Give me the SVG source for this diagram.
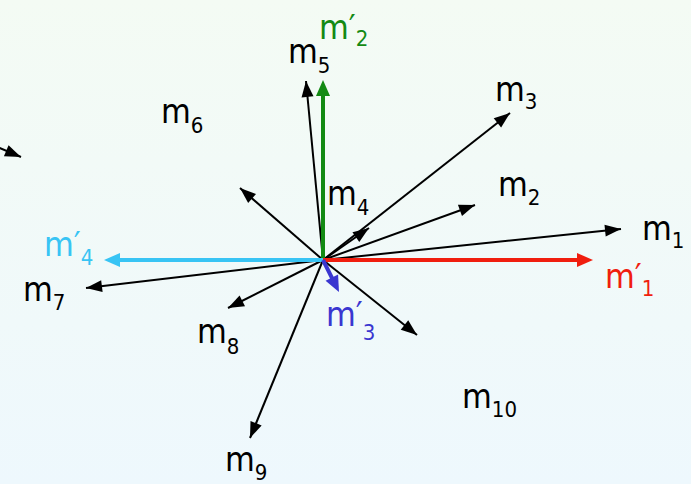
<svg xmlns="http://www.w3.org/2000/svg" width="691" height="484" viewBox="0 0 691 484">
<defs>
<linearGradient id="bg" x1="0" y1="0" x2="0" y2="1">
<stop offset="0" stop-color="#f4fbf4"/>
<stop offset="1" stop-color="#eef8fd"/>
</linearGradient>
<marker id="ah" markerUnits="userSpaceOnUse" markerWidth="16" markerHeight="12" refX="16" refY="6" orient="auto" overflow="visible">
<path d="M0,0 L16,6 L0,12 z" fill="#000"/>
</marker>
<marker id="ahG" markerUnits="userSpaceOnUse" markerWidth="16" markerHeight="14" refX="10" refY="7" orient="auto" overflow="visible">
<path d="M0,0 L16,7 L0,14 z" fill="#138a13"/>
</marker>
<marker id="ahR" markerUnits="userSpaceOnUse" markerWidth="16" markerHeight="14" refX="10" refY="7" orient="auto" overflow="visible">
<path d="M0,0 L16,7 L0,14 z" fill="#f01e0e"/>
</marker>
<marker id="ahC" markerUnits="userSpaceOnUse" markerWidth="16" markerHeight="14" refX="10" refY="7" orient="auto" overflow="visible">
<path d="M0,0 L16,7 L0,14 z" fill="#38c4f4"/>
</marker>
<marker id="ahB" markerUnits="userSpaceOnUse" markerWidth="16" markerHeight="14" refX="10" refY="7" orient="auto" overflow="visible">
<path d="M0,0 L16,7 L0,14 z" fill="#3a36d0"/>
</marker>
</defs>
<style>
.t{font-family:"DejaVu Sans Condensed","DejaVu Sans",sans-serif;font-size:34px;fill:#000}
.s{font-size:22px}
.k{stroke:#000;stroke-width:2;fill:none;marker-end:url(#ah)}
.w{stroke-width:4;fill:none}
</style>
<rect x="0" y="0" width="691" height="484" fill="url(#bg)"/>
<g id="connectors">
<line class="k" x1="323" y1="260" x2="621" y2="229"/>
<line class="k" x1="323" y1="260" x2="475" y2="205"/>
<line class="k" x1="323" y1="260" x2="510" y2="113"/>
<line class="k" x1="323" y1="260" x2="369" y2="228"/>
<line class="k" x1="323" y1="260" x2="306" y2="81"/>
<line class="k" x1="323" y1="260" x2="240" y2="188"/>
<line class="k" x1="-10" y1="144" x2="21" y2="157"/>
<line class="k" x1="323" y1="260" x2="86" y2="288"/>
<line class="k" x1="323" y1="260" x2="228" y2="308"/>
<line class="k" x1="323" y1="260" x2="250" y2="438"/>
<line class="k" x1="323" y1="260" x2="417" y2="335"/>
<line class="w" stroke="#138a13" x1="323" y1="262" x2="323" y2="86" marker-end="url(#ahG)"/>
<line class="w" stroke="#f01e0e" x1="321" y1="260" x2="587" y2="260" marker-end="url(#ahR)"/>
<line class="w" stroke="#38c4f4" x1="323" y1="260" x2="110" y2="260" marker-end="url(#ahC)"/>
<line class="w" stroke="#3a36d0" x1="323" y1="260" x2="336.3" y2="286.6" marker-end="url(#ahB)"/>
</g>
<g id="m1"><text class="t" x="642" y="240">m<tspan class="s" dy="8">1</tspan></text></g>
<g id="m2"><text class="t" x="498" y="196">m<tspan class="s" dy="9">2</tspan></text></g>
<g id="m3"><text class="t" x="495" y="101">m<tspan class="s" dy="8">3</tspan></text></g>
<g id="m4"><text class="t" x="327" y="205">m<tspan class="s" dy="10">4</tspan></text></g>
<g id="m5"><text class="t" x="288" y="63">m<tspan class="s" dy="10">5</tspan></text></g>
<g id="m6"><text class="t" x="161" y="123">m<tspan class="s" dy="10">6</tspan></text></g>
<g id="m7"><text class="t" x="23" y="301">m<tspan class="s" dy="9">7</tspan></text></g>
<g id="m8"><text class="t" x="197" y="343">m<tspan class="s" dy="11">8</tspan></text></g>
<g id="m9"><text class="t" x="225" y="471">m<tspan class="s" dy="9">9</tspan></text></g>
<g id="m10"><text class="t" x="462" y="408">m<tspan class="s" dy="9">10</tspan></text></g>
<g id="mp1"><text class="t" x="605" y="288" style="fill:#f01e0e">m′<tspan class="s" dy="8">1</tspan></text></g>
<g id="mp2"><text class="t" x="319" y="39" style="fill:#138a13">m′<tspan class="s" dy="7">2</tspan></text></g>
<g id="mp3"><text class="t" x="326" y="326" style="fill:#3a36d0">m′<tspan class="s" dy="14">3</tspan></text></g>
<g id="mp4"><text class="t" x="44" y="256" style="fill:#38c4f4">m′<tspan class="s" dy="9">4</tspan></text></g>
</svg>
